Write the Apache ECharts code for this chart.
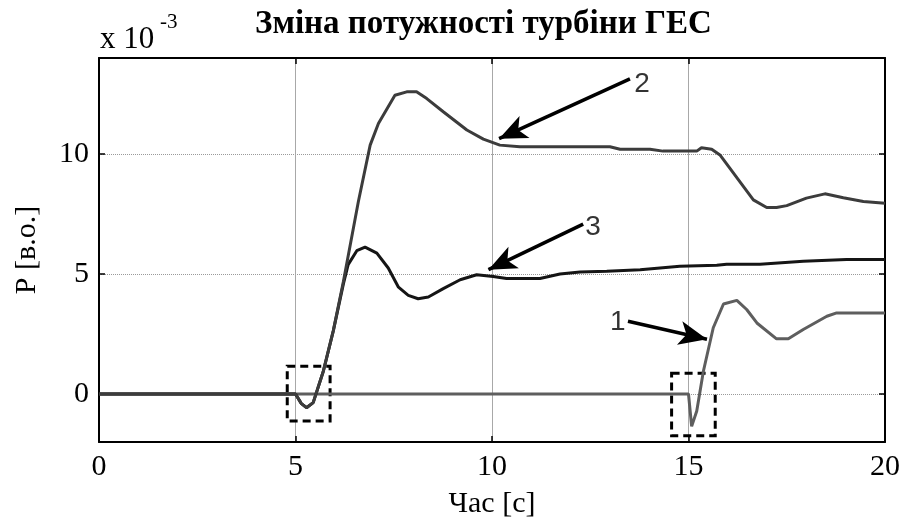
<!DOCTYPE html>
<html>
<head>
<meta charset="utf-8">
<script src="https://cdn.jsdelivr.net/npm/echarts@6/dist/echarts.min.js"></script>
<style>html,body{margin:0;padding:0;background:#fff}#c{width:902px;height:520px}</style>
</head>
<body>
<div id="c"></div>
<script>
// Time [s] and power [x10^-3 p.u.] for the three curves
var t1 = [0, 15.0, 15.08, 15.21, 15.38, 15.63, 15.89, 16.23, 16.48, 16.74, 17.24, 17.54, 17.92, 18.52, 18.77, 20];
var p1 = [0, 0, -1.35, -0.71, 0.96, 2.76, 3.75, 3.9, 3.52, 2.96, 2.30, 2.30, 2.69, 3.24, 3.38, 3.38];

var t2 = [0, 5.0, 5.15, 5.28, 5.45, 5.71, 5.96, 6.22, 6.6, 6.9, 7.11, 7.53, 7.83, 8.08, 8.34, 8.76, 9.36, 9.78, 10.2, 10.71, 13.0, 13.26, 14.02, 14.35, 15.21, 15.33, 15.59, 15.8, 16.65, 16.99, 17.24, 17.5, 18.0, 18.47, 18.94, 19.45, 20];
var p2 = [0, 0, -0.4, -0.57, -0.36, 0.96, 2.62, 4.7, 8.02, 10.37, 11.27, 12.45, 12.59, 12.59, 12.31, 11.76, 11.0, 10.62, 10.37, 10.30, 10.30, 10.2, 10.2, 10.12, 10.12, 10.26, 10.2, 9.96, 8.09, 7.77, 7.77, 7.85, 8.16, 8.34, 8.18, 8.02, 7.95];

var t3 = [0, 5.0, 5.15, 5.28, 5.45, 5.71, 5.96, 6.22, 6.34, 6.56, 6.77, 7.07, 7.36, 7.62, 7.87, 8.12, 8.38, 8.76, 9.19, 9.61, 10.03, 10.37, 11.22, 11.73, 12.24, 12.92, 13.77, 14.78, 15.72, 15.97, 16.82, 17.92, 19.02, 20];
var p3 = [0, 0, -0.4, -0.57, -0.36, 0.96, 2.62, 4.6, 5.39, 5.97, 6.12, 5.87, 5.25, 4.45, 4.11, 3.97, 4.04, 4.39, 4.76, 4.97, 4.90, 4.81, 4.81, 5.0, 5.08, 5.11, 5.18, 5.32, 5.36, 5.41, 5.41, 5.53, 5.6, 5.6];

var xTicks = [0, 5, 10, 15, 20];
var yTicks = [0, 5, 10];

// annotations (data coordinates)
var arrows = [
  {label: '1', from: [13.46, 3.03], to: [15.47, 2.28], text: [13.2, 3.0]},
  {label: '2', from: [13.51, 13.13], to: [10.18, 10.64], text: [13.82, 12.92]},
  {label: '3', from: [12.32, 7.08], to: [9.91, 5.18], text: [12.57, 6.95]}
];
var boxes = [
  [[4.79, 1.16], [5.88, -1.12]],
  [[14.57, 0.86], [15.68, -1.74]]
];

function zip(a, b) { return a.map(function (v, i) { return [v, b[i]]; }); }

var serif = '"Liberation Serif", "Times New Roman", serif';
var sans = '"Liberation Sans", Arial, sans-serif';

var chart = echarts.init(document.getElementById('c'), null, {renderer: 'canvas'});
chart.setOption({
  animation: false,
  backgroundColor: '#fff',
  title: {
    text: 'Зміна потужності турбіни ГЕС',
    left: 250, top: 3,
    textStyle: {fontFamily: serif, fontWeight: 'bold', fontSize: 33, color: '#000'}
  },
  grid: {left: 99, right: 17, top: 58, bottom: 78, outerBoundsMode: 'none', containLabel: false},
  graphic: [
    {type: 'text', left: 100, top: 24, style: {text: 'x 10', fontFamily: serif, fontSize: 31, fill: '#000'}},
    {type: 'text', left: 160, top: 12, style: {text: '-3', fontFamily: serif, fontSize: 21, fill: '#000'}}
  ],
  xAxis: [{
    type: 'value', min: 0, max: 20, interval: 5, position: 'bottom',
    name: 'Час [с]', nameLocation: 'middle', nameGap: 47,
    nameTextStyle: {fontFamily: serif, fontSize: 30, color: '#000'},
    axisLine: {show: true, onZero: false, lineStyle: {color: '#000', width: 2}},
    axisTick: {show: true, inside: true, length: 6, lineStyle: {color: '#000', width: 1.5}},
    axisLabel: {fontFamily: serif, fontSize: 30, color: '#000', margin: 10},
    splitLine: {show: true, lineStyle: {color: '#a8a8a8', width: 1, type: 'solid'}}
  }, {
    type: 'value', min: 0, max: 20, interval: 5, position: 'top',
    axisLine: {show: true, onZero: false, lineStyle: {color: '#000', width: 2}},
    axisTick: {show: true, inside: true, length: 6, lineStyle: {color: '#000', width: 1.5}},
    axisLabel: {show: false}, splitLine: {show: false}
  }],
  yAxis: [{
    type: 'value', min: -2, max: 14, position: 'left',
    name: 'P [в.о.]', nameLocation: 'middle', nameGap: 57, nameRotate: 90,
    nameTextStyle: {fontFamily: serif, fontSize: 30, color: '#000'},
    axisLine: {show: true, onZero: false, lineStyle: {color: '#000', width: 2}},
    axisTick: {show: true, inside: true, length: 6, customValues: yTicks, lineStyle: {color: '#000', width: 1.5}},
    axisLabel: {fontFamily: serif, fontSize: 30, color: '#000', margin: 10, customValues: yTicks},
    splitLine: {show: true, lineStyle: {color: '#9a9a9a', width: 1, type: 'dotted'}}
  }, {
    type: 'value', min: -2, max: 14, position: 'right',
    axisLine: {show: true, onZero: false, lineStyle: {color: '#000', width: 2}},
    axisTick: {show: true, inside: true, length: 6, customValues: yTicks, lineStyle: {color: '#000', width: 1.5}},
    axisLabel: {show: false, customValues: yTicks}, splitLine: {show: false}
  }],
  series: [
    {type: 'line', name: '1', data: zip(t1, p1), showSymbol: false, symbol: 'none',
     lineStyle: {color: '#5e5e5e', width: 3}, z: 3},
    {type: 'line', name: '3', data: zip(t3, p3), showSymbol: false, symbol: 'none',
     lineStyle: {color: '#151515', width: 3}, z: 4},
    {type: 'line', name: '2', data: zip(t2, p2), showSymbol: false, symbol: 'none',
     lineStyle: {color: '#3c3c3c', width: 3}, z: 5},
    {type: 'line', name: 'ann', data: [], z: 6,
     markLine: {
       silent: true, symbol: ['none', 'arrow'], symbolSize: [18, 28],
       lineStyle: {color: '#000', width: 3.5, type: 'solid'},
       label: {show: false},
       data: arrows.map(function (a) { return [{coord: a.from}, {coord: a.to}]; })
     },
     markArea: {
       silent: true,
       itemStyle: {color: 'rgba(0,0,0,0)', borderColor: '#000', borderWidth: 3, borderType: [8, 5]},
       data: boxes.map(function (b) { return [{coord: b[0]}, {coord: b[1]}]; })
     }
    },
    {type: 'scatter', name: 'labels', symbolSize: 0, z: 7,
     data: arrows.map(function (a) { return {value: a.text, name: a.label}; }),
     label: {show: true, position: 'inside', formatter: function (p) { return p.name; },
             fontFamily: sans, fontSize: 28, color: '#000'}
    }
  ]
});
</script>
</body>
</html>
